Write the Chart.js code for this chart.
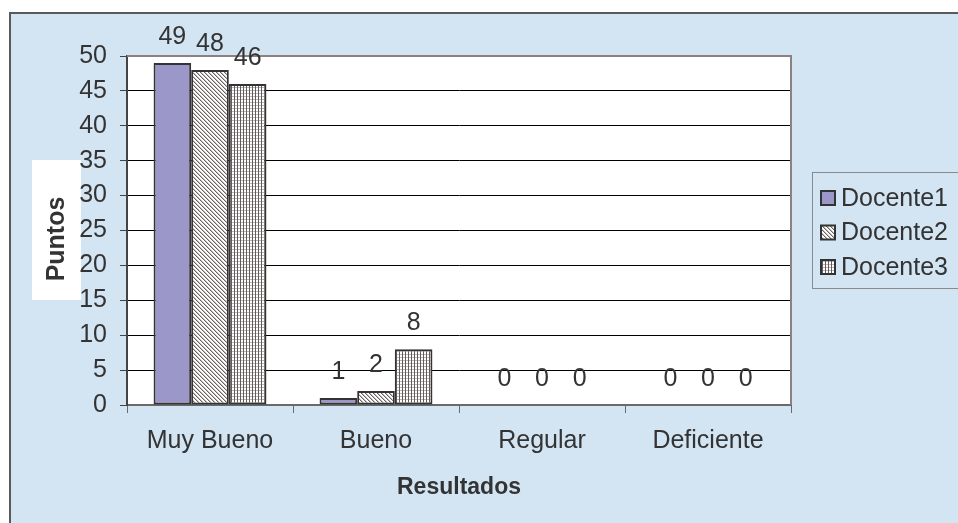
<!DOCTYPE html>
<html>
<head>
<meta charset="utf-8">
<title>Resultados por docente</title>
<script src="https://cdn.jsdelivr.net/npm/chart.js@4.4.1/dist/chart.umd.min.js"></script>
<style>
  html, body { margin: 0; padding: 0; background: #ffffff; }
  #wrap { width: 958px; height: 523px; position: relative; }
  canvas { display: block; }
</style>
</head>
<body>
<div id="wrap"><canvas id="chart" width="958" height="523"></canvas></div>
<script>
// Categories and values per teacher
const categories = ['Muy Bueno', 'Bueno', 'Regular', 'Deficiente'];
const docente1 = [49, 1, 0, 0];
const docente2 = [48, 2, 0, 0];
const docente3 = [46, 8, 0, 0];
const seriesNames = ['Docente1', 'Docente2', 'Docente3'];
const yTicks = [0, 5, 10, 15, 20, 25, 30, 35, 40, 45, 50];
const yTitle = 'Puntos';
const xTitle = 'Resultados';

const FONT = "'Liberation Sans', Arial, Helvetica, sans-serif";
const TEXT = '#333333';
const FRAME_BG = '#d3e4f3';

// Fill patterns for the hatched series
function makePattern(size, paint) {
  const c = document.createElement('canvas');
  c.width = size; c.height = size;
  const g = c.getContext('2d');
  g.fillStyle = '#ffffff';
  g.fillRect(0, 0, size, size);
  paint(g);
  return document.createElement('canvas').getContext('2d').createPattern(c, 'repeat');
}
const diagPattern = makePattern(4, g => {
  for (let i = 0; i < 4; i++) {
    g.fillStyle = '#6a6464';
    g.fillRect(i, i, 1, 1);
    g.fillStyle = '#c4bebe';
    g.fillRect((i + 1) % 4, i, 1, 1);
  }
});
const gridPattern = makePattern(3, g => {
  g.fillStyle = '#bdb6b6';
  g.fillRect(0, 0, 3, 1);
  g.fillStyle = '#625c5c';
  g.fillRect(0, 0, 1, 3);
});
const fills = ['#9b97c9', diagPattern, gridPattern];

// Background frame, plot area and the vertical axis title on its white panel
const backdrop = {
  id: 'backdrop',
  beforeDraw(chart) {
    const { ctx, chartArea: a } = chart;
    ctx.save();
    ctx.fillStyle = '#ffffff';
    ctx.fillRect(0, 0, chart.width, chart.height);
    ctx.fillStyle = FRAME_BG;
    ctx.fillRect(10, 13, chart.width, chart.height);
    ctx.strokeStyle = '#5a5a5a';
    ctx.lineWidth = 2;
    ctx.beginPath();
    ctx.moveTo(10, chart.height + 2);
    ctx.lineTo(10, 13);
    ctx.lineTo(chart.width + 2, 13);
    ctx.stroke();
    ctx.fillStyle = '#ffffff';
    ctx.fillRect(a.left, a.top, a.right - a.left, a.bottom - a.top);
    ctx.fillRect(32, 160, 49, 140);
    ctx.translate(57, 239);
    ctx.rotate(-Math.PI / 2);
    ctx.font = 'bold 25px ' + FONT;
    ctx.fillStyle = TEXT;
    ctx.textAlign = 'center';
    ctx.textBaseline = 'middle';
    ctx.fillText(yTitle, 0, 0);
    ctx.restore();
  },
  beforeDatasetsDraw(chart) {
    const { ctx, chartArea: a } = chart;
    ctx.save();
    ctx.strokeStyle = '#8c8080';
    ctx.lineWidth = 2;
    ctx.beginPath();
    ctx.moveTo(a.left, a.top);
    ctx.lineTo(a.right, a.top);
    ctx.lineTo(a.right, a.bottom);
    ctx.stroke();
    ctx.restore();
  }
};

// Value labels above each bar
const valueLabels = {
  id: 'valueLabels',
  afterDatasetsDraw(chart) {
    const { ctx } = chart;
    ctx.save();
    ctx.font = '25px ' + FONT;
    ctx.fillStyle = TEXT;
    ctx.textAlign = 'center';
    ctx.textBaseline = 'alphabetic';
    chart.data.datasets.forEach((ds, i) => {
      chart.getDatasetMeta(i).data.forEach((bar, j) => {
        ctx.fillText(String(ds.data[j]), bar.x, bar.y - 19);
      });
    });
    ctx.restore();
  }
};

// Boxed legend on the right
const boxLegend = {
  id: 'boxLegend',
  afterDraw(chart) {
    const { ctx } = chart;
    const left = 812, top = 172, bottom = 288;
    ctx.save();
    ctx.fillStyle = FRAME_BG;
    ctx.fillRect(left, top, chart.width - left + 5, bottom - top);
    ctx.strokeStyle = '#8a8a8a';
    ctx.lineWidth = 1;
    ctx.strokeRect(left + 0.5, top + 0.5, chart.width, bottom - top);
    ctx.font = '25px ' + FONT;
    ctx.textBaseline = 'middle';
    chart.data.datasets.forEach((ds, i) => {
      const cy = 198 + i * 34.5;
      ctx.fillStyle = ds.backgroundColor;
      ctx.fillRect(821, cy - 7, 14, 14);
      ctx.strokeStyle = '#333333';
      ctx.lineWidth = 2;
      ctx.strokeRect(821, cy - 7, 14, 14);
      ctx.fillStyle = TEXT;
      ctx.textAlign = 'left';
      ctx.fillText(ds.label, 841, cy + 1);
    });
    ctx.restore();
  }
};

const datasets = [docente1, docente2, docente3].map((values, i) => ({
  label: seriesNames[i],
  data: values,
  backgroundColor: fills[i],
  borderColor: '#333333',
  borderWidth: 2,
  borderSkipped: false,
  categoryPercentage: 0.68,
  barPercentage: 1.0
}));

new Chart(document.getElementById('chart'), {
  type: 'bar',
  data: { labels: categories, datasets },
  options: {
    responsive: false,
    animation: false,
    devicePixelRatio: 1,
    layout: { padding: { left: 10, top: 56, right: 167, bottom: 0 } },
    plugins: {
      legend: { display: false },
      tooltip: { enabled: false }
    },
    scales: {
      x: {
        grid: {
          offset: true,
          drawOnChartArea: false,
          drawTicks: true,
          tickLength: 8,
          color: '#6a6a6a',
          tickColor: '#6a6a6a'
        },
        border: { color: '#6a6a6a', width: 2 },
        ticks: { font: { size: 25, family: FONT }, color: TEXT, padding: 13 },
        title: {
          display: true,
          text: xTitle,
          font: { size: 23, weight: 'bold', family: FONT },
          color: TEXT,
          padding: { top: 0, bottom: 22 }
        },
        afterFit(scale) { scale.height = 118; }
      },
      y: {
        min: 0,
        max: 50,
        afterBuildTicks(scale) { scale.ticks = yTicks.map(v => ({ value: v })); },
        grid: {
          color: '#000000',
          lineWidth: 1,
          tickLength: 7,
          tickColor: '#444444'
        },
        border: { color: '#444444', width: 2 },
        ticks: { font: { size: 25, family: FONT }, color: TEXT, padding: 13 },
        afterFit(scale) { scale.width = 117; }
      }
    }
  },
  plugins: [backdrop, valueLabels, boxLegend]
});
</script>
</body>
</html>
